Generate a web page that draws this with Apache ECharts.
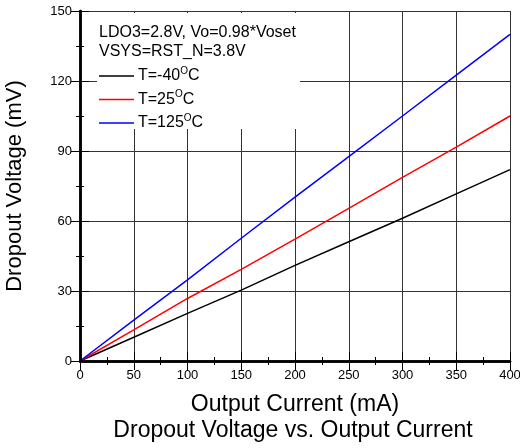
<!DOCTYPE html>
<html style="height:100%;width:100%;">
<head>
  <meta charset="utf-8">
  <title>Dropout Voltage vs. Output Current</title>
  <script src="https://cdn.jsdelivr.net/npm/echarts@6/dist/echarts.min.js"></script>
</head>
<body style="margin:0px;height:100%;width:100%;background:#fff;">
  <div id="main" style="width:520px;height:448px"></div>
  <script type="text/javascript">
    // data
    var current = [0, 50, 100, 150, 200, 250, 300, 350, 400];
    var tMinus40 = [0, 10.2, 20.4, 30.4, 41, 51.1, 61.2, 71.6, 82];
    var t25 = [0, 13.3, 26.8, 39.3, 52.2, 65.4, 78.7, 91.7, 105];
    var t125 = [0, 17.5, 34.8, 52.6, 70.2, 87.6, 105, 122.5, 140];
    var seriesNames = ['T=-40{s|O}C', 'T=25{s|O}C', 'T=125{s|O}C'];
    var seriesColors = ['#000000', '#ff0000', '#0000ff'];

    function pairs(ys) {
      return current.map(function (x, i) { return [x, ys[i]]; });
    }

    var font = 'Arial, "Liberation Sans", sans-serif';
    var myChart = echarts.init(document.getElementById('main'));

    var tick = { show: true, inside: true, length: 9, lineStyle: { color: '#000', width: 1 } };
    var minor = { show: true, splitNumber: 2, length: 4, lineStyle: { color: '#000', width: 1 } };
    var frame = { show: true, lineStyle: { color: '#000', width: 2.5 } };

    var option = {
      animation: false,
      textStyle: { fontFamily: font },
      grid: { left: 80, right: 10, top: 11, bottom: 87, containLabel: false, outerBoundsMode: 'none' },
      legend: {
        orient: 'vertical',
        left: 99,
        top: 66,
        icon: 'rect',
        itemWidth: 35,
        itemHeight: 1.5,
        itemGap: 3.5,
        padding: 0,
        data: seriesNames,
        textStyle: {
          fontFamily: font,
          fontSize: 16,
          color: '#000',
          lineHeight: 20,
          padding: [0, 0, 0, -1],
          rich: {
            s: { fontSize: 10, verticalAlign: 'top', lineHeight: 10, fontFamily: font, color: '#000' }
          }
        }
      },
      xAxis: [{
        type: 'value',
        position: 'bottom',
        min: 0, max: 400, interval: 50,
        name: 'Output Current (mA)',
        nameLocation: 'middle',
        nameGap: 32,
        nameTextStyle: { fontSize: 23, color: '#000', fontFamily: font },
        axisLine: frame,
        axisTick: tick,
        minorTick: minor,
        splitLine: { show: true, lineStyle: { color: '#333', width: 1 } },
        axisLabel: { fontSize: 13, color: '#000', margin: 8, fontFamily: font }
      }, {
        type: 'value',
        position: 'top',
        min: 0, max: 400, interval: 50,
        z: 5,
        axisLine: frame,
        axisTick: tick,
        minorTick: minor,
        splitLine: { show: false },
        axisLabel: { show: false }
      }],
      yAxis: [{
        type: 'value',
        position: 'left',
        min: 0, max: 150, interval: 30,
        name: 'Dropout Voltage (mV)',
        nameLocation: 'middle',
        nameRotate: 90,
        nameGap: 54,
        nameTextStyle: { fontSize: 22, color: '#000', fontFamily: font },
        axisLine: frame,
        axisTick: tick,
        minorTick: minor,
        splitLine: { show: true, lineStyle: { color: '#333', width: 1 } },
        axisLabel: { fontSize: 13, color: '#000', margin: 8, fontFamily: font }
      }, {
        type: 'value',
        position: 'right',
        min: 0, max: 150, interval: 30,
        z: 5,
        axisLine: frame,
        axisTick: tick,
        minorTick: minor,
        splitLine: { show: false },
        axisLabel: { show: false }
      }],
      graphic: [
        // white box behind the notes and legend hides the grid lines
        { type: 'rect', z: 1, shape: { x: 97, y: 13, width: 203, height: 116 }, style: { fill: '#fff' } },
        { type: 'text', z: 2, x: 99, y: 33, style: { text: 'LDO3=2.8V, Vo=0.98*Voset', font: '16px ' + font, fill: '#000', verticalAlign: 'middle' } },
        { type: 'text', z: 2, x: 99, y: 52, style: { text: 'VSYS=RST_N=3.8V', font: '16px ' + font, fill: '#000', verticalAlign: 'middle' } },
        { type: 'text', z: 2, x: 293, y: 431, style: { text: 'Dropout Voltage vs. Output Current', font: '23px ' + font, fill: '#000', align: 'center', verticalAlign: 'middle' } }
      ],
      series: [
        { name: seriesNames[0], type: 'line', data: pairs(tMinus40), symbol: 'none', lineStyle: { color: seriesColors[0], width: 1.5 }, itemStyle: { color: seriesColors[0] } },
        { name: seriesNames[1], type: 'line', data: pairs(t25), symbol: 'none', lineStyle: { color: seriesColors[1], width: 1.5 }, itemStyle: { color: seriesColors[1] } },
        { name: seriesNames[2], type: 'line', data: pairs(t125), symbol: 'none', lineStyle: { color: seriesColors[2], width: 1.5 }, itemStyle: { color: seriesColors[2] } }
      ]
    };

    myChart.setOption(option);
  </script>
</body>
</html>
